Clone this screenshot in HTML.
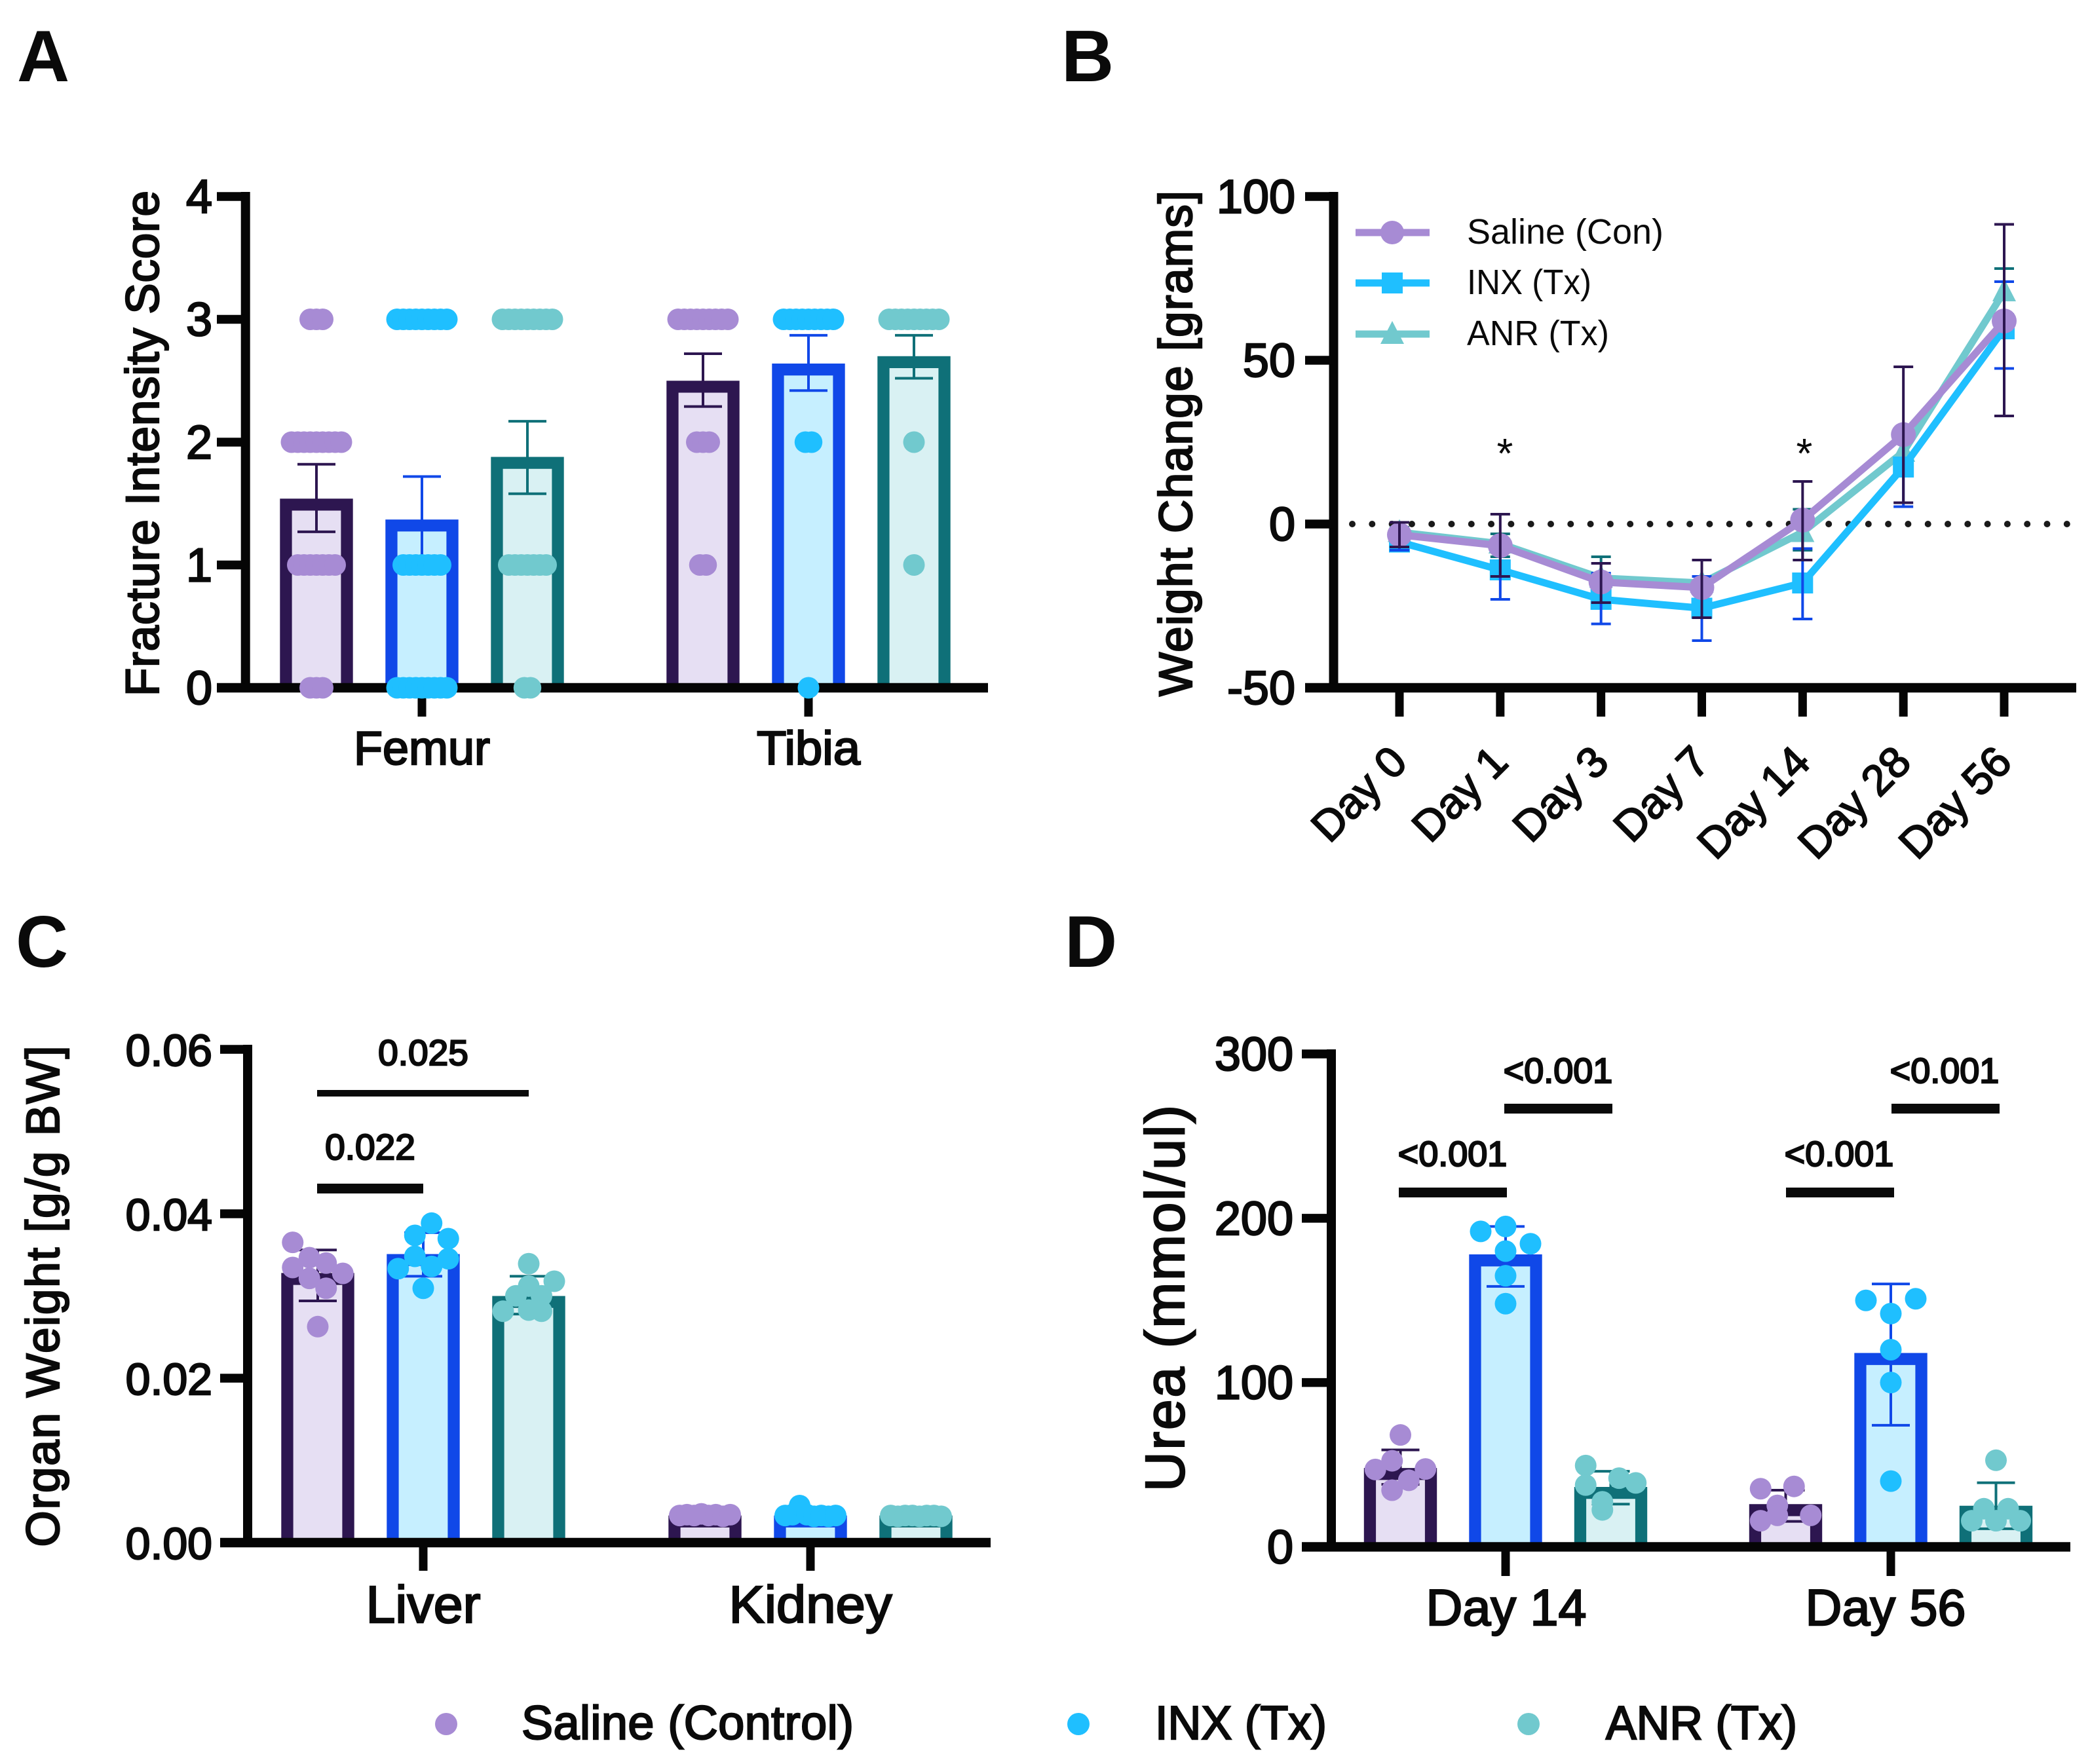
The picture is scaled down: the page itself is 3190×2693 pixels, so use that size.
<!DOCTYPE html>
<html lang="en">
<head>
<meta charset="utf-8">
<title>Fracture, weight, organ and urea panels</title>
<style>
html,body{margin:0;padding:0;background:#fff;}
svg{display:block;}
text{font-family:"Liberation Sans",Arial,sans-serif;fill:#0a0a0a;}
.b{font-weight:400;stroke:#0a0a0a;stroke-width:2.4;}
.m{font-weight:400;stroke:#0a0a0a;stroke-width:2;}
.h{font-weight:700;}
</style>
</head>
<body>
<svg id="figure" xmlns="http://www.w3.org/2000/svg" width="3190" height="2693" viewBox="0 0 3190 2693">
<rect x="0" y="0" width="3190" height="2693" fill="#ffffff"/>

<text class="h" x="26" y="124" font-size="111">A</text>
<text class="h" x="1620" y="124" font-size="111">B</text>
<text class="h" x="24" y="1476" font-size="111">C</text>
<text class="h" x="1625" y="1476" font-size="111">D</text>

<g id="panel-a"></g>
<g id="panel-b"></g>
<g id="panel-c"></g>
<g id="panel-d"></g>

<text class="b" transform="translate(242,677) rotate(-90)" text-anchor="middle" font-size="71" textLength="772" lengthAdjust="spacing">Fracture Intensity Score</text>
<text class="b" transform="translate(1819,677) rotate(-90)" text-anchor="middle" font-size="71" textLength="772" lengthAdjust="spacing">Weight Change [grams]</text>
<text class="b" transform="translate(90,1979) rotate(-90)" text-anchor="middle" font-size="71" textLength="765" lengthAdjust="spacing">Organ Weight [g/g BW]</text>
<text class="b" transform="translate(1807,1982) rotate(-90)" text-anchor="middle" font-size="84" textLength="590" lengthAdjust="spacing">Urea (mmol/ul)</text>

<g>
  <line x1="2069" x2="2182" y1="355" y2="355" stroke="#A78BD4" stroke-width="11"/>
  <circle cx="2125" cy="355" r="18" fill="#A78BD4"/>
  <text x="2239" y="372" font-size="54" textLength="300" lengthAdjust="spacingAndGlyphs">Saline (Con)</text>
  <line x1="2069" x2="2182" y1="432" y2="432" stroke="#1FBFFF" stroke-width="11"/>
  <rect x="2109" y="416" width="32" height="32" fill="#1FBFFF"/>
  <text x="2239" y="449" font-size="54" textLength="190" lengthAdjust="spacingAndGlyphs">INX (Tx)</text>
  <line x1="2069" x2="2182" y1="510" y2="510" stroke="#71C9CE" stroke-width="11"/>
  <polygon points="2125,490 2143,525 2107,525" fill="#71C9CE"/>
  <text x="2239" y="527" font-size="54" textLength="217" lengthAdjust="spacingAndGlyphs">ANR (Tx)</text>
</g>

<text x="2297" y="714" font-size="64" text-anchor="middle">*</text>
<text x="2754" y="714" font-size="64" text-anchor="middle">*</text>

<g>
  <rect x="484" y="1664" width="323" height="10" fill="#0a0a0a"/>
  <rect x="484" y="1807" width="162" height="15" fill="#0a0a0a"/>
  <text class="b" x="646" y="1626" font-size="55" text-anchor="middle">0.025</text>
  <text class="b" x="565" y="1770" font-size="55" text-anchor="middle">0.022</text>
</g>

<g>
  <rect x="2135" y="1813" width="165" height="15" fill="#0a0a0a"/>
  <rect x="2296" y="1685" width="165" height="15" fill="#0a0a0a"/>
  <rect x="2726" y="1813" width="165" height="15" fill="#0a0a0a"/>
  <rect x="2887" y="1685" width="165" height="15" fill="#0a0a0a"/>
  <text class="b" x="2217" y="1780" font-size="54" text-anchor="middle">&lt;0.001</text>
  <text class="b" x="2378" y="1653" font-size="54" text-anchor="middle">&lt;0.001</text>
  <text class="b" x="2807" y="1780" font-size="54" text-anchor="middle">&lt;0.001</text>
  <text class="b" x="2968" y="1653" font-size="54" text-anchor="middle">&lt;0.001</text>
</g>

<g>
  <circle cx="681" cy="2632" r="17" fill="#A78BD4"/>
  <text class="b" x="796" y="2655" font-size="72" textLength="507" lengthAdjust="spacing">Saline (Control)</text>
  <circle cx="1646" cy="2632" r="17" fill="#1FBFFF"/>
  <text class="b" x="1763" y="2655" font-size="72" textLength="262" lengthAdjust="spacingAndGlyphs">INX (Tx)</text>
  <circle cx="2333" cy="2632" r="17" fill="#71C9CE"/>
  <text class="b" x="2451" y="2655" font-size="72" textLength="292" lengthAdjust="spacingAndGlyphs">ANR (Tx)</text>
</g>
</svg>

<script>
/* ---------- Panel A data: fracture intensity ---------- */
const fractureCategories = ['Femur', 'Tibia'];
const fractureTicks = [0, 1, 2, 3, 4];
const fractureTickLabels = ['0', '1', '2', '3', '4'];
const fractureSalineMean = [1.54, 2.5];
const fractureInxMean = [1.37, 2.64];
const fractureAnrMean = [1.88, 2.7];
const fractureSalineUpper = [1.82, 2.72];
const fractureSalineLower = [1.27, 2.29];
const fractureInxUpper = [1.72, 2.87];
const fractureInxLower = [1.02, 2.42];
const fractureAnrUpper = [2.17, 2.87];
const fractureAnrLower = [1.58, 2.52];
const fractureSalineFemurPoints = [3,3,3,2,2,2,2,2,2,2,2,2,1,1,1,1,1,1,1,0,0,0];
const fractureSalineTibiaPoints = [3,3,3,3,3,3,3,3,3,2,2,2,1,1];
const fractureInxFemurPoints = [3,3,3,3,3,3,3,3,3,1,1,1,1,1,1,1,0,0,0,0,0,0,0,0,0];
const fractureInxTibiaPoints = [3,3,3,3,3,3,3,3,3,2,2,0];
const fractureAnrFemurPoints = [3,3,3,3,3,3,3,3,3,1,1,1,1,1,1,1,0,0];
const fractureAnrTibiaPoints = [3,3,3,3,3,3,3,3,3,2,1];

/* ---------- Panel B data: weight change ---------- */
const weightDays = ['Day 0', 'Day 1', 'Day 3', 'Day 7', 'Day 14', 'Day 28', 'Day 56'];
const weightTicks = [-50, 0, 50, 100];
const weightTickLabels = ['-50', '0', '50', '100'];
const weightSaline = [-3.3, -6.6, -17.7, -19.4, 1.2, 27.3, 62];
const weightInx = [-5.5, -14, -23, -25.7, -18, 17.4, 59.6];
const weightAnr = [-2.5, -6, -16.5, -18, -2.5, 22, 71];
const weightSalineUpper = [0.5, 3, -12, -11, 13, 48, 91.5];
const weightSalineLower = [-7, -16, -24, -28.6, -11, 6.5, 33];
const weightInxUpper = [-3, -5, -15, -16, -7.5, 29, 74];
const weightInxLower = [-8, -23, -30.5, -35.6, -29, 5.3, 47.5];
const weightAnrUpper = [-1, -3, -10, -11, 4.5, 28, 78];
const weightAnrLower = [-4, -10, -23, -26, -8, 15, 64];

/* ---------- Panel C data: organ weight ---------- */
const organCategories = ['Liver', 'Kidney'];
const organTicks = [0, 0.02, 0.04, 0.06];
const organTickLabels = ['0.00', '0.02', '0.04', '0.06'];
const organSalineMean = [0.0328, 0.0033];
const organInxMean = [0.0351, 0.0033];
const organAnrMean = [0.03, 0.0033];
const organSalineUpper = [0.0356, 0.0036];
const organSalineLower = [0.0294, 0.003];
const organInxUpper = [0.0377, 0.0038];
const organInxLower = [0.0324, 0.0029];
const organAnrUpper = [0.0324, 0.0036];
const organAnrLower = [0.0278, 0.003];
const organSalineLiverPoints = [0.03652, 0.03466, 0.034, 0.03275, 0.03347, 0.03214, 0.03094, 0.02627];
const organSalineKidneyPoints = [0.0033, 0.0034, 0.0033, 0.0035, 0.0033, 0.0034, 0.0032, 0.0034];
const organInxLiverPoints = [0.03737, 0.03886, 0.03697, 0.03482, 0.0336, 0.03453, 0.03333, 0.03094];
const organInxKidneyPoints = [0.0033, 0.0034, 0.0045, 0.0034, 0.0032, 0.0033, 0.0032, 0.0033];
const organAnrLiverPoints = [0.03392, 0.03121, 0.03002, 0.03179, 0.02815, 0.03002, 0.02829, 0.02815];
const organAnrKidneyPoints = [0.0033, 0.0032, 0.0033, 0.0033, 0.0032, 0.0033, 0.0033, 0.0032];

/* ---------- Panel D data: urea ---------- */
const ureaCategories = ['Day 14', 'Day 56'];
const ureaTicks = [0, 100, 200, 300];
const ureaTickLabels = ['0', '100', '200', '300'];
const ureaSalineMean = [48, 26];
const ureaInxMean = [178, 118];
const ureaAnrMean = [36.5, 25];
const ureaSalineUpper = [59, 34.5];
const ureaSalineLower = [38, 15.5];
const ureaInxUpper = [195, 160];
const ureaInxLower = [158.5, 74];
const ureaAnrUpper = [46, 39];
const ureaAnrLower = [26, 11];
const ureaSalineDay14Points = [52.4, 40.5, 47.4, 47.1, 34.5, 68.1];
const ureaSalineDay56Points = [35.4, 25.2, 36.8, 19.2, 15.9, 19.2];
const ureaInxDay14Points = [180, 184.5, 192, 195, 165, 148];
const ureaInxDay56Points = [150, 142, 151, 120, 100, 40];
const ureaAnrDay14Points = [49.5, 22.5, 41.8, 38.9, 37.6, 27.4];
const ureaAnrDay56Points = [52.7, 15.9, 23.2, 15.9, 23.2, 15.9];

/* ---------- Series styling ---------- */
const INK = '#050505';
const DOT_COLORS = ['#A78BD4', '#1FBFFF', '#71C9CE'];
const EDGE_COLORS = ['#2D1650', '#1048E8', '#0F7078'];
const FILL_COLORS = ['#E6DFF3', '#C6EFFF', '#D9F1F3'];
const SERIES_SLUGS = ['saline', 'inx', 'anr'];

const SVG_NS = 'http://www.w3.org/2000/svg';
const DOT_RADIUS = 16.5;
const CLUSTER_GAP = 26.5;

function make(tag, parent, attrs) {
  const node = document.createElementNS(SVG_NS, tag);
  for (const key in attrs) {
    node.setAttribute(key, attrs[key]);
  }
  parent.appendChild(node);
  return node;
}

function linearScale(d0, d1, r0, r1) {
  return function (v) {
    return r0 + (v - d0) * (r1 - r0) / (d1 - d0);
  };
}

function drawAxes(parent, cfg) {
  const yAxis = make('line', parent, {x1: cfg.axisX, x2: cfg.axisX, y1: cfg.top - 7, y2: cfg.base + 7, stroke: INK, 'stroke-width': 14});
  
  
  const xAxis = make('line', parent, {x1: cfg.tickLeft, x2: cfg.right, y1: cfg.base, y2: cfg.base, stroke: INK, 'stroke-width': 14.6});
  
  
  cfg.ticks.forEach(function (t, i) {
    const y = cfg.y(t);
    const tick = make('line', parent, {x1: cfg.tickLeft, x2: cfg.axisX, y1: y, y2: y, stroke: INK, 'stroke-width': 13.5});
    
    
    const label = make('text', parent, {x: cfg.labelRight, y: y + 25, 'text-anchor': 'end', 'font-size': cfg.tickFont, 'class': 'b'});
    
    
    label.textContent = cfg.tickLabels[i];
  });
}

function drawCategoryTick(parent, x, base, bottom) {
  const tick = make('line', parent, {x1: x, x2: x, y1: base, y2: bottom, stroke: INK, 'stroke-width': 13});
  
  
}

function drawCategoryLabel(parent, text, x, y, size, len) {
  const label = make('text', parent, {x: x, y: y, 'text-anchor': 'middle', 'font-size': size, 'class': 'b', textLength: len, lengthAdjust: 'spacingAndGlyphs'});
  
  
  label.textContent = text;
}

function drawBar(parent, cx, value, y, base, s) {
  const half = 55.7;
  const stroke = 18.3;
  const top = y(value) + stroke / 2;
  const left = cx - half + stroke / 2;
  const right = cx + half - stroke / 2;
  const d = 'M' + left + ' ' + base + ' L' + left + ' ' + top + ' L' + right + ' ' + top + ' L' + right + ' ' + base;
  const bar = make('path', parent, {d: d, fill: FILL_COLORS[s], stroke: EDGE_COLORS[s], 'stroke-width': stroke});
  
  
}

function drawError(parent, cx, upper, lower, y, s, capHalf) {
  const stem = make('line', parent, {x1: cx, x2: cx, y1: y(upper), y2: y(lower), stroke: EDGE_COLORS[s], 'stroke-width': 4});
  
  
  const capTop = make('line', parent, {x1: cx - capHalf, x2: cx + capHalf, y1: y(upper), y2: y(upper), stroke: EDGE_COLORS[s], 'stroke-width': 4});
  
  
  const capLow = make('line', parent, {x1: cx - capHalf, x2: cx + capHalf, y1: y(lower), y2: y(lower), stroke: EDGE_COLORS[s], 'stroke-width': 4});
  
  
}

function drawDot(parent, cx, cy, s) {
  const dot = make('circle', parent, {cx: cx, cy: cy, r: DOT_RADIUS, fill: DOT_COLORS[s]});
  
  
}

/* identical scores are laid out as centred horizontal rows */
function drawRows(parent, values, cx, y, s, spacing) {
  const counts = new Map();
  values.forEach(function (v) {
    counts.set(v, (counts.get(v) || 0) + 1);
  });
  counts.forEach(function (count, v) {
    for (let i = 0; i < count; i++) {
      drawDot(parent, cx + (i - (count - 1) / 2) * spacing, y(v), s);
    }
  });
}

/* values are split into vertical clusters; isolated values sit on the centre line,
   clustered values fill a fixed number of columns round-robin in array order */
function drawSwarm(parent, values, cx, y, s, columns, startColumn, columnGap) {
  const sorted = values.map(function (v, i) {
    return {py: y(v), order: i};
  }).sort(function (a, b) {
    return a.py - b.py;
  });
  const clusters = [];
  sorted.forEach(function (p, i) {
    if (i === 0 || p.py - sorted[i - 1].py > CLUSTER_GAP) {
      clusters.push([]);
    }
    clusters[clusters.length - 1].push(p);
  });
  clusters.forEach(function (cluster) {
    if (cluster.length === 1) {
      drawDot(parent, cx, cluster[0].py, s);
      return;
    }
    cluster.sort(function (a, b) {
      return a.order - b.order;
    });
    cluster.forEach(function (p, i) {
      const column = (i + startColumn) % columns;
      drawDot(parent, cx + (column - (columns - 1) / 2) * columnGap, p.py, s);
    });
  });
}

/* ---------- Panel A ---------- */
(function () {
  const root = document.getElementById('panel-a');
  const y = linearScale(0, 4, 1050, 300);
  const groupX = linearScale(0, 1, 644, 1234);
  const offset = linearScale(0, 1, -161, 0);
  const means = [fractureSalineMean, fractureInxMean, fractureAnrMean];
  const uppers = [fractureSalineUpper, fractureInxUpper, fractureAnrUpper];
  const lowers = [fractureSalineLower, fractureInxLower, fractureAnrLower];
  const points = [
    [fractureSalineFemurPoints, fractureSalineTibiaPoints],
    [fractureInxFemurPoints, fractureInxTibiaPoints],
    [fractureAnrFemurPoints, fractureAnrTibiaPoints]
  ];
  const lens = [208, 158];
  fractureCategories.forEach(function (c, ci) {
    means.forEach(function (m, s) {
      drawBar(root, groupX(ci) + offset(s), m[ci], y, 1050, s);
    });
  });
  drawAxes(root, {axisX: 374.7, top: 300, base: 1050, tickLeft: 331, right: 1508, ticks: fractureTicks, tickLabels: fractureTickLabels, y: y, labelRight: 324, tickFont: 72});
  fractureCategories.forEach(function (c, ci) {
    const gx = groupX(ci);
    drawCategoryTick(root, gx, 1050, 1094);
    drawCategoryLabel(root, c, gx, 1167, 72, lens[ci]);
    means.forEach(function (m, s) {
      drawError(root, gx + offset(s), uppers[s][ci], lowers[s][ci], y, s, 29);
      drawRows(root, points[s][ci], gx + offset(s), y, s, 9.5);
    });
  });
})();

/* ---------- Panel B ---------- */
(function () {
  const root = document.getElementById('panel-b');
  const y = linearScale(-50, 100, 1050, 300);
  const x = linearScale(0, 6, 2136, 3059);
  drawAxes(root, {axisX: 2035.5, top: 300, base: 1050, tickLeft: 1992, right: 3169, ticks: weightTicks, tickLabels: weightTickLabels, y: y, labelRight: 1977, tickFont: 72});
  const zero = make('line', root, {x1: 2064, x2: 3165, y1: y(0), y2: y(0), stroke: '#1a1a1a', 'stroke-width': 10, 'stroke-linecap': 'round', 'stroke-dasharray': '0 30.3'});
  
  
  weightDays.forEach(function (d, i) {
    drawCategoryTick(root, x(i), 1050, 1094);
    const label = make('text', root, {transform: 'translate(' + (x(i) + 15) + ',1167) rotate(-45)', 'text-anchor': 'end', 'font-size': 66, 'class': 'm'});
    
    
    label.textContent = d;
  });
  const seriesOrder = [2, 1, 0];
  const values = [weightSaline, weightInx, weightAnr];
  const uppers = [weightSalineUpper, weightInxUpper, weightAnrUpper];
  const lowers = [weightSalineLower, weightInxLower, weightAnrLower];
  seriesOrder.forEach(function (s) {
    const pts = values[s].map(function (v, i) {
      return x(i) + ',' + y(v);
    }).join(' ');
    const line = make('polyline', root, {points: pts, fill: 'none', stroke: DOT_COLORS[s], 'stroke-width': 11});
    
    
    values[s].forEach(function (v, i) {
      const px = x(i);
      const py = y(v);
      let marker;
      if (s === 0) {
        marker = make('circle', root, {cx: px, cy: py, r: 19, fill: DOT_COLORS[s]});
      } else if (s === 1) {
        marker = make('rect', root, {x: px - 16, y: py - 16, width: 32, height: 32, fill: DOT_COLORS[s]});
      } else {
        marker = make('polygon', root, {points: px + ',' + (py - 20) + ' ' + (px + 18) + ',' + (py + 15) + ' ' + (px - 18) + ',' + (py + 15), fill: DOT_COLORS[s]});
      }
      
      
      drawError(root, px, uppers[s][i], lowers[s][i], y, s, 15);
    });
  });
})();

/* ---------- Panel C ---------- */
(function () {
  const root = document.getElementById('panel-c');
  const y = linearScale(0, 0.06, 2355, 1602);
  const groupX = linearScale(0, 1, 646, 1237);
  const offset = linearScale(0, 1, -161, 0);
  const means = [organSalineMean, organInxMean, organAnrMean];
  const uppers = [organSalineUpper, organInxUpper, organAnrUpper];
  const lowers = [organSalineLower, organInxLower, organAnrLower];
  const points = [
    [organSalineLiverPoints, organSalineKidneyPoints],
    [organInxLiverPoints, organInxKidneyPoints],
    [organAnrLiverPoints, organAnrKidneyPoints]
  ];
  const lens = [175, 249];
  const liverColumns = [4, 4, 5];
  const liverStarts = [0, 1, 2];
  const liverGaps = [25.5, 25.5, 19.5];
  organCategories.forEach(function (c, ci) {
    means.forEach(function (m, s) {
      drawBar(root, groupX(ci) + offset(s), m[ci], y, 2355, s);
    });
  });
  drawAxes(root, {axisX: 378, top: 1602, base: 2355, tickLeft: 336, right: 1512, ticks: organTicks, tickLabels: organTickLabels, y: y, labelRight: 324, tickFont: 68});
  organCategories.forEach(function (c, ci) {
    const gx = groupX(ci);
    drawCategoryTick(root, gx, 2355, 2398);
    drawCategoryLabel(root, c, gx, 2477, 80, lens[ci]);
    means.forEach(function (m, s) {
      drawError(root, gx + offset(s), uppers[s][ci], lowers[s][ci], y, s, 29);
      if (ci === 0) {
        drawSwarm(root, points[s][ci], gx + offset(s), y, s, liverColumns[s], liverStarts[s], liverGaps[s]);
      } else {
        drawSwarm(root, points[s][ci], gx + offset(s), y, s, 8, 0, 11);
      }
    });
  });
})();

/* ---------- Panel D ---------- */
(function () {
  const root = document.getElementById('panel-d');
  const y = linearScale(0, 300, 2361.5, 1609);
  const groupX = linearScale(0, 1, 2298, 2886);
  const labelX = linearScale(0, 1, 2299, 2878);
  const offset = linearScale(0, 1, -160.5, 0);
  const means = [ureaSalineMean, ureaInxMean, ureaAnrMean];
  const uppers = [ureaSalineUpper, ureaInxUpper, ureaAnrUpper];
  const lowers = [ureaSalineLower, ureaInxLower, ureaAnrLower];
  const points = [
    [ureaSalineDay14Points, ureaSalineDay56Points],
    [ureaInxDay14Points, ureaInxDay56Points],
    [ureaAnrDay14Points, ureaAnrDay56Points]
  ];
  const swarmColumns = [[4, 4], [3, 3], [4, 5]];
  const swarmStarts = [[1, 0], [1, 0], [0, 0]];
  const swarmGaps = [[25.5, 25.5], [38, 38], [25.5, 18.5]];
  ureaCategories.forEach(function (c, ci) {
    means.forEach(function (m, s) {
      drawBar(root, groupX(ci) + offset(s), m[ci], y, 2361.5, s);
    });
  });
  drawAxes(root, {axisX: 2032, top: 1609, base: 2361.5, tickLeft: 1987, right: 3160, ticks: ureaTicks, tickLabels: ureaTickLabels, y: y, labelRight: 1974, tickFont: 72});
  ureaCategories.forEach(function (c, ci) {
    const gx = groupX(ci);
    drawCategoryTick(root, gx, 2361.5, 2406);
    drawCategoryLabel(root, c, labelX(ci), 2481, 78, 245);
    means.forEach(function (m, s) {
      drawError(root, gx + offset(s), uppers[s][ci], lowers[s][ci], y, s, 29);
      drawSwarm(root, points[s][ci], gx + offset(s), y, s, swarmColumns[s][ci], swarmStarts[s][ci], swarmGaps[s][ci]);
    });
  });
})();
</script>
</body>
</html>
